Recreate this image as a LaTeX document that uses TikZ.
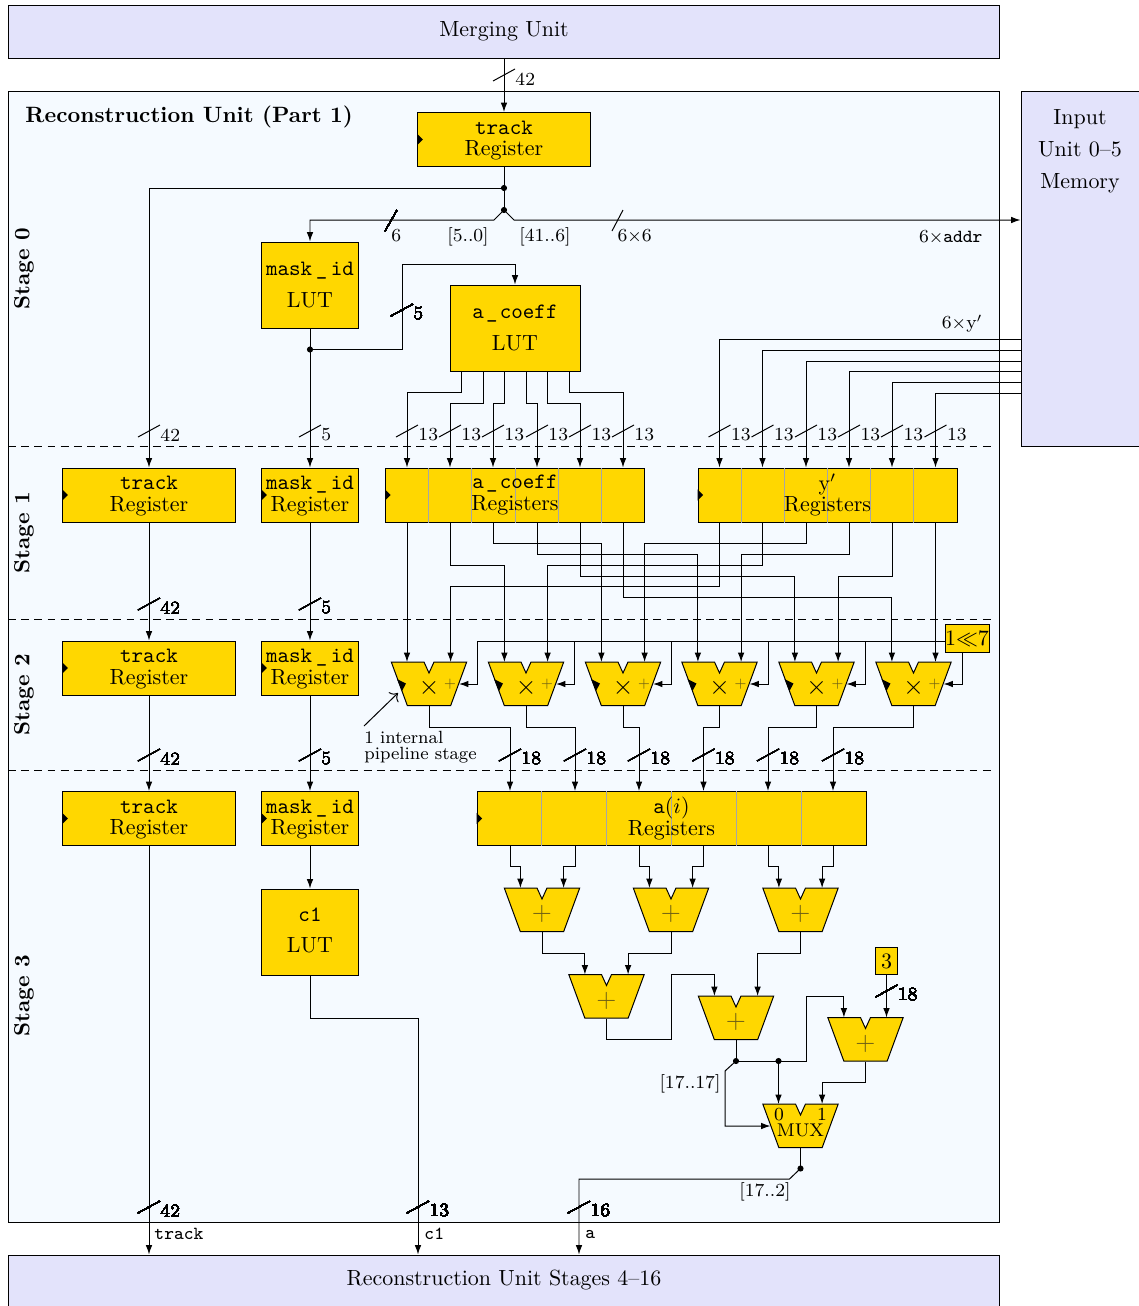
\documentclass[tikz,border=0pt]{standalone}
\usepackage{tikz}
\definecolor{unitfill}{RGB}{227,227,251}
\definecolor{stagefill}{RGB}{245,250,255}
\definecolor{logicfill}{RGB}{255,215,0}
\definecolor{opcolor}{RGB}{110,95,20}
\usetikzlibrary{arrows.meta, calc}
\def\px{0.4555pt}
\newcommand{\labelsize}{\fontsize{8.4}{10}\selectfont}

\newcommand{\alunode}[4]{
    \draw[alu] (#2-37.7,#3) -- (#2-5,#3) -- (#2,#3+11) -- (#2+5,#3) -- (#2+37.7,#3)
        -- (#2+21.7,#3+43.5) -- (#2-21.7,#3+43.5) -- cycle;
    \node[alubox] (#1) at (#2,#3+21.75) {};
    \node[inner sep=0pt] (#1sym) at (#2,#3+26) {#4};
    \coordinate (#1l) at (#2-21.6,#3);
    \coordinate (#1r) at (#2+21.6,#3);
    \coordinate (#1p) at (#2+30,#3+22);
    \coordinate (#1q) at (#2-30,#3+22);
}
\newcommand{\busmark}[4]{
    \draw (#2-11,#3+6) -- (#2+11,#3-6);
    \node[buslabel] (#1) at (#2+11,#3+4) {#4};
}
\newcommand{\route}[3]{\draw[wire] (#1) -- (#1 |- 0,#2) -| (#3);}

\begin{document}
\begin{tikzpicture}[
    x=\px, y=-\px, line width=0.45pt,
    unit/.style={draw, fill=unitfill, inner sep=0pt},
    logic/.style={draw, fill=logicfill, inner sep=0pt, align=center},
    reg/.style={logic, minimum height=54*\px},
    regtext/.style={reg, text depth=1pt},
    lut/.style={logic, minimum width=96.5*\px, minimum height=86*\px},
    alu/.style={draw, fill=logicfill},
    alubox/.style={inner sep=0pt, minimum width=43.4*\px, minimum height=43.5*\px},
    wire/.style={-{Latex[length=4.3pt,width=3pt]}},
    dot/.style={circle, fill=black, inner sep=0pt, minimum size=2.8pt},
    buslabel/.style={anchor=west, inner sep=0pt, font=\labelsize},
    note/.style={inner sep=0pt, font=\labelsize},
    cell/.style={gray!70, line width=0.3pt},
    stagesep/.style={dash pattern=on 3.6pt off 2.4pt},
    stage/.style={rotate=90, font=\bfseries, inner sep=0pt}
]
    \useasboundingbox (0,0) rectangle (1139,1306);

    % Units around the picture
    \node[unit, minimum width=991*\px, minimum height=53.5*\px] (merge) at (504,31.75) {Merging Unit};
    \node[draw, fill=stagefill, inner sep=0pt, minimum width=991*\px, minimum height=1130.5*\px] (recon) at (504,656.75) {};
    \node[unit, minimum width=118*\px, minimum height=354.5*\px] (inmem) at (1080,268.75) {};
    \node[anchor=north, align=center, inner sep=0pt] (inmemtext) at (1080,109) {Input\\[2.5pt]Unit 0--5\\[2.5pt]Memory};
    \node[unit, minimum width=991*\px, minimum height=51*\px] (stages) at (504,1280.5) {Reconstruction Unit Stages 4--16};
    \node[anchor=west, inner sep=0pt, font=\fontsize{10.1}{12}\selectfont\bfseries] (title) at (25,116.5) {Reconstruction Unit (Part 1)};

    % Stage separators
    \foreach \y/\n in {446.5/a,619/b,770/c}
        \draw[stagesep] (recon.west |- 0,\y) -- (993,\y) coordinate (sep\n);
    \node[stage] (stage0) at (24,269) {Stage 0};
    \node[stage] (stage1) at (24,533) {Stage 1};
    \node[stage] (stage2) at (24,695) {Stage 2};
    \node[stage] (stage3) at (24,995.5) {Stage 3};

    % Registers and tables
    \node[regtext, minimum width=172.5*\px] (trackin) at (504,139.5) {\texttt{track}\\[-2.2pt]Register};
    \node[lut] (masklut) at (310,285) {\texttt{mask\kern1.6pt\_\kern1.6pt id}\\[2.2pt]LUT};
    \node[lut, minimum width=130*\px] (coefflut) at (515,328) {\texttt{a\kern1pt\_\kern1pt coeff}\\[2.2pt]LUT};
    \foreach \y/\n in {495/a,668/b,818.5/c} {
        \node[regtext, minimum width=172.5*\px] (track\n) at (149,\y) {\texttt{track}\\[-2.2pt]Register};
        \node[regtext, minimum width=96.5*\px] (mask\n) at (310,\y) {\texttt{mask\kern1.6pt\_\kern1.6pt id}\\[-2.2pt]Register};
    }
    \node[lut, text depth=2pt] (c1lut) at (310,932) {\texttt{c1}\\[2.2pt]LUT};

    \node[reg, minimum width=259*\px] (coeffreg) at (515,495) {};
    \node[reg, minimum width=259*\px] (yreg) at (827.5,495) {};
    \node[reg, minimum width=389*\px] (areg) at (671.5,818.5) {};
    \foreach \x in {428.7,471.8,515,558.2,601.3}
        \draw[cell] (coeffreg.north -| \x,0) -- (coeffreg.south -| \x,0);
    \foreach \x in {741.2,784.3,827.5,870.7,913.8}
        \draw[cell] (yreg.north -| \x,0) -- (yreg.south -| \x,0);
    \foreach \x in {541.8,606.6,671.5,736.4,801.2}
        \draw[cell] (areg.north -| \x,0) -- (areg.south -| \x,0);
    \node[align=center, inner sep=0pt] (coefftext) at (coeffreg) {\texttt{a\kern1pt\_\kern1pt coeff}\\[-2.2pt]Registers};
    \node[align=center, inner sep=0pt] (ytext) at (yreg) {y$'$\\[-2.2pt]Registers};
    \node[align=center, inner sep=0pt] (atext) at (areg) {\texttt{a}$(i)$\\[-2.2pt]Registers};

    % Clock marks
    \foreach \n in {trackin,tracka,trackb,trackc,maska,maskb,maskc,coeffreg,yreg,areg}
        \fill ([yshift=2.6pt]\n.west) -- ([xshift=2.6pt]\n.west) -- ([yshift=-2.6pt]\n.west) -- cycle;

    \foreach \i/\x in {1/407,2/450,3/493,4/537,5/580,6/623} {
        \coordinate (ct\i) at (coeffreg.north -| \x,0);
        \coordinate (cb\i) at (coeffreg.south -| \x,0);
    }
    \foreach \i/\x in {1/719.5,2/762.5,3/806,4/849,5/892,6/935.5} {
        \coordinate (yt\i) at (yreg.north -| \x,0);
        \coordinate (yb\i) at (yreg.south -| \x,0);
    }
    \foreach \i/\x in {1/510,2/575,3/639,4/703.5,5/768,6/833} {
        \coordinate (at\i) at (areg.north -| \x,0);
        \coordinate (ab\i) at (areg.south -| \x,0);
    }

    % Multipliers
    \foreach \i/\x in {1/429,2/526,3/623,4/719.5,5/816.5,6/913.5} {
        \alunode{m\i}{\x}{662}{\large$\times$}
        \node[inner sep=0pt, font=\fontsize{6.4}{7}\selectfont, text=opcolor] (m\i plus) at (\x+21,684) {$+$};
        \fill (\x-32,679) -- (\x-23,683.5) -- (\x-27,691) -- cycle;
    }
    \node[logic, minimum width=44*\px, minimum height=27.5*\px] (shift) at (967,638.5) {1$\ll$7};
    \coordinate (shiftw) at (shift.west |- 0,641);

    % Adders
    \alunode{s1}{542}{888}{\large\color{opcolor}$+$}
    \alunode{s2}{671}{888}{\large\color{opcolor}$+$}
    \alunode{s3}{800.5}{888}{\large\color{opcolor}$+$}
    \alunode{s4}{606.5}{974.5}{\large\color{opcolor}$+$}
    \alunode{s5}{736}{996}{\large\color{opcolor}$+$}
    \alunode{s6}{865.5}{1017.5}{\large\color{opcolor}$+$}
    \alunode{mux}{800.5}{1104}{\labelsize MUX}
    \node[note] (mux0) at (779,1114.5) {0};
    \node[note] (mux1) at (822,1114.5) {1};
    \node[logic, minimum width=22*\px, minimum height=27*\px] (three) at (886.5,961) {3};

    % Junctions
    \node[dot] (forktop) at (504,188) {};
    \node[dot] (fork) at (504,210) {};
    \node[dot] (maskdot) at (310,349.5) {};
    \node[dot] (sumdot) at (736,1061) {};
    \node[dot] (sumdotb) at (778.5,1061) {};
    \node[dot] (muxdot) at (800.5,1168.5) {};

    % Stage 0 wiring
    \draw[wire] (merge.south -| trackin.north) -- (trackin.north);
    \draw (trackin.south) -- (fork.center);
    \draw[wire] (forktop.center) -| (tracka.north);
    \draw[wire] (fork.center) -- ++(-10,10) -| (masklut.north);
    \draw[wire] (fork.center) -- ++(10,10) -- (inmem.west |- 0,220);
    \draw[wire] (masklut.south) -- (maska.north);
    \draw[wire] (maskdot.center) -| (402,264) -| (coefflut.north);
    \foreach \i/\x/\y in {1/461/392,2/483/403,3/504/403,4/526/403,5/547/403,6/569/392} {
        \coordinate (lo\i) at (coefflut.south -| \x,0);
        \route{lo\i}{\y}{ct\i}
    }
    \foreach \i/\y in {1/339,2/350,3/361,4/371.5,5/382.5,6/393} {
        \coordinate (mo\i) at (inmem.west |- 0,\y);
        \draw[wire] (mo\i) -| (yt\i);
    }

    % Stage 1 wiring
    \draw[wire] (tracka.south) -- (trackb.north);
    \draw[wire] (maska.south) -- (maskb.north);
    \draw[wire] (cb1) -- (cb1 |- m1l);
    \route{cb2}{565}{m2l}
    \route{cb3}{543.5}{m3l}
    \route{cb4}{554}{m4l}
    \route{cb5}{576}{m5l}
    \route{cb6}{597.5}{m6l}
    \route{yb1}{586.5}{m1r}
    \route{yb2}{565}{m2r}
    \route{yb3}{543.5}{m3r}
    \route{yb4}{554}{m4r}
    \route{yb5}{576}{m5r}
    \draw[wire] (yb6) -- (yb6 |- m6r);

    % Stage 2 wiring
    \draw[wire] (trackb.south) -- (trackc.north);
    \draw[wire] (maskb.south) -- (maskc.north);
    \foreach \i/\x in {1/477,2/574,3/671,4/768,5/865}
        \draw[wire] (shiftw) -- (shiftw -| \x,0) |- (m\i p);
    \draw[wire] (shift.south -| 962,0) |- (m6p);
    \foreach \i in {1,...,6}
        \route{m\i.south}{727}{at\i}
    \coordinate (pipetail) at (364,726);
    \coordinate (pipehead) at (398,693);
    \draw[-{To[length=3pt]}] (pipetail) -- (pipehead);
    \node[note, anchor=north west, align=left, font=\fontsize{8.05}{10}\selectfont] (pipetext) at (364,730.5) {1 internal\\[-2.7pt]pipeline stage};

    % Stage 3 wiring
    \draw[wire] (maskc.south) -- (c1lut.north);
    \route{ab1}{866.5}{s1l}
    \route{ab2}{866.5}{s1r}
    \route{ab3}{866.5}{s2l}
    \route{ab4}{866.5}{s2r}
    \route{ab5}{866.5}{s3l}
    \route{ab6}{866.5}{s3r}
    \route{s1.south}{953}{s4l}
    \route{s2.south}{953}{s4r}
    \route{s3.south}{953}{s5r}
    \draw[wire] (s4.south) |- (671.5,1039.5) -- (671.5,974.5) -| (s5l);
    \draw (s5.south) -- (sumdot.center);
    \draw[wire] (sumdot.center) -- (806,1061) -- (806,996) -| (s6l);
    \draw[wire] (sumdotb.center) -- (sumdotb |- muxl);
    \draw[wire] (three.south) -- (three.south |- s6r);
    \route{s6.south}{1082.5}{muxr}
    \draw[wire] (sumdot.center) -- ++(-11,10) |- (muxq);
    \draw (mux.south) -- (muxdot.center);
    \draw[wire] (muxdot.center) -- ++(-11,10.5) -| (stages.north -| 579,0);
    \draw[wire] (trackc.south) -- (stages.north -| trackc.south);
    \draw[wire] (c1lut.south) |- (418,1018) -- (stages.north -| 418,0);

    % Bus widths
    \busmark{wmerge}{504}{75}{42}
    \foreach \x/\w [count=\i] in {149/42,310/5,407/13,450/13,493/13,537/13,580/13,623/13,719.5/13,762.5/13,806/13,849/13,892/13,935.5/13}
        \busmark{wa\i}{\x}{431}{\w}
    \busmark{wb1}{149}{604}{42}
    \busmark{wb2}{310}{604}{5}
    \foreach \x/\w [count=\i] in {149/42,310/5,510/18,575/18,639/18,703.5/18,768/18,833/18}
        \busmark{wc\i}{\x}{755}{\w}
    \busmark{wlut}{402}{310}{5}
    \busmark{wthree}{886.5}{991}{18}
    \busmark{wd1}{149}{1207}{42}
    \busmark{wd2}{418}{1207}{13}
    \busmark{wd3}{579}{1207}{16}
    \draw (385,231) -- (397,210);
    \draw (612,231) -- (623,210);

    % Labels
    \node[note, anchor=west] (lab6) at (391,236) {6};
    \node[note] (labfive) at (468,237) {[5..0]};
    \node[note] (labforty) at (545,237) {[41..6]};
    \node[note, anchor=west] (labsix) at (617,236) {6$\times$6};
    \node[note, anchor=east] (labaddr) at (983,237) {6$\times$\texttt{addr}};
    \node[note, anchor=east] (laby) at (983,323.5) {6$\times$y$'$};
    \node[note] (labseventeen) at (690,1083.5) {[17..17]};
    \node[note] (labtwo) at (765,1191.5) {[17..2]};
    \node[note, anchor=west, font=\labelsize\ttfamily] (labtrack) at (154,1234) {track};
    \node[note, anchor=west, font=\labelsize\ttfamily] (labc) at (424,1234) {c1};
    \node[note, anchor=west, font=\labelsize\ttfamily] (laba) at (585,1234) {a};
\end{tikzpicture}
\end{document}
